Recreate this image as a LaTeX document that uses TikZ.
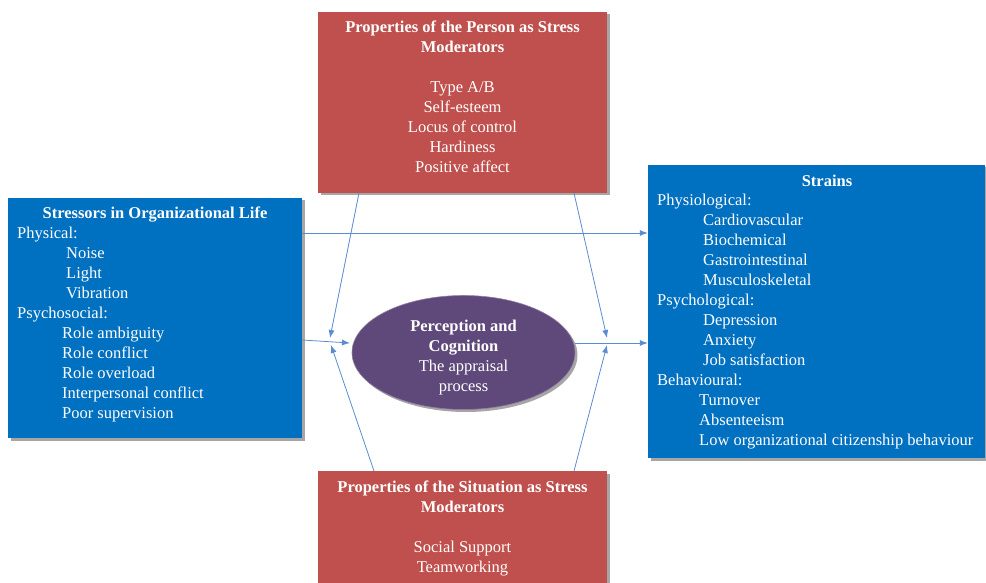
\documentclass[tikz,border=0pt]{standalone}
\usepackage{fontspec}
\setmainfont{Liberation Serif}
\usetikzlibrary{arrows.meta,shadows,shapes.geometric}
\definecolor{boxred}{HTML}{C0504D}
\definecolor{boxblue}{HTML}{0070C0}
\definecolor{ellpurple}{HTML}{5F497A}
\definecolor{arrowblue}{HTML}{5B8BD0}
\begin{document}
\begin{tikzpicture}[x=1pt,y=-1pt,
  every node/.style={font=\fontsize{16.5}{20}\selectfont, text=white, inner sep=0pt},
  boxshadow/.style={drop shadow={shadow xshift=2.5pt,shadow yshift=-2.5pt,fill=black,opacity=0.35}},
  redbox/.style={rectangle, fill=boxred, boxshadow},
  bluebox/.style={rectangle, fill=boxblue, boxshadow},
  listtext/.style={align=left, anchor=north west},
  conn/.style={draw=arrowblue, line width=0.8pt, -{Latex[length=8pt,width=6pt]}}
]
\useasboundingbox (0,0) rectangle (986,583);
% boxes
\node[redbox, minimum width=289pt, minimum height=181pt] (person) at (462.5,102.5) {};
\node[redbox, minimum width=289pt, minimum height=116pt] (situation) at (462.5,529) {};
\node[bluebox, minimum width=294pt, minimum height=240pt] (stressors) at (155,318) {};
\node[bluebox, minimum width=337pt, minimum height=293pt] (strains) at (816.5,311.5) {};
\node[ellipse, fill=ellpurple, draw=ellpurple!70!white, line width=0.6pt, boxshadow,
      minimum width=223pt, minimum height=114pt] (cog) at (463.5,352.5) {};

% texts
\node[align=center, anchor=north] (persontxt) at (462.5,20.5)
  {\textbf{Properties of the Person as Stress}\\\textbf{Moderators}\\[20pt]Type A/B\\Self-esteem\\Locus of control\\Hardiness\\Positive affect};
\node[align=center, anchor=north] (situationtxt) at (462.5,480.5)
  {\textbf{Properties of the Situation as Stress}\\\textbf{Moderators}\\[20pt]Social Support\\Teamworking};
\node[anchor=north] (stressorstitle) at (155,206.5) {\textbf{Stressors in Organizational Life}};
\node[listtext] (stressorslist) at (17,226.5)
  {Physical:\\
   \hspace*{49pt}Noise\\
   \hspace*{49pt}Light\\
   \hspace*{49pt}Vibration\\
   Psychosocial:\\
   \hspace*{45pt}Role ambiguity\\
   \hspace*{45pt}Role conflict\\
   \hspace*{45pt}Role overload\\
   \hspace*{45pt}Interpersonal conflict\\
   \hspace*{45pt}Poor supervision};
\node[anchor=north] (strainstitle) at (827,175) {\textbf{Strains}};
\node[listtext] (strainslist) at (657,194)
  {Physiological:\\
   \hspace*{46pt}Cardiovascular\\
   \hspace*{46pt}Biochemical\\
   \hspace*{46pt}Gastrointestinal\\
   \hspace*{46pt}Musculoskeletal\\
   Psychological:\\
   \hspace*{46pt}Depression\\
   \hspace*{46pt}Anxiety\\
   \hspace*{46pt}Job satisfaction\\
   Behavioural:\\
   \hspace*{42pt}Turnover\\
   \hspace*{42pt}Absenteeism\\
   \hspace*{42pt}Low organizational citizenship behaviour};
\node[align=center, anchor=north] (cogtxt) at (463.5,320)
  {\textbf{Perception and}\\\textbf{Cognition}\\The appraisal\\process};

% connector end points
\coordinate (pL) at (359,193);
\coordinate (pR) at (574,193);
\coordinate (sL) at (374,471);
\coordinate (sR) at (574,471);
\coordinate (tipTL) at (330,338);
\coordinate (tipTR) at (607,338);
\coordinate (tipBL) at (331,345);
\coordinate (tipBR) at (607,345);
\coordinate (stTop) at (302,233);
\coordinate (stMid) at (302,340);
\coordinate (cogIn) at (350,343);
\coordinate (cogOut) at (575,343);

% connectors
\draw[conn] (stTop) -- (stTop -| strains.west);
\draw[conn] (stMid) -- (cogIn);
\draw[conn] (cogOut) -- (cogOut -| strains.west);
\draw[conn] (pL) -- (tipTL);
\draw[conn] (pR) -- (tipTR);
\draw[conn] (sL) -- (tipBL);
\draw[conn] (sR) -- (tipBR);
\end{tikzpicture}
\end{document}
